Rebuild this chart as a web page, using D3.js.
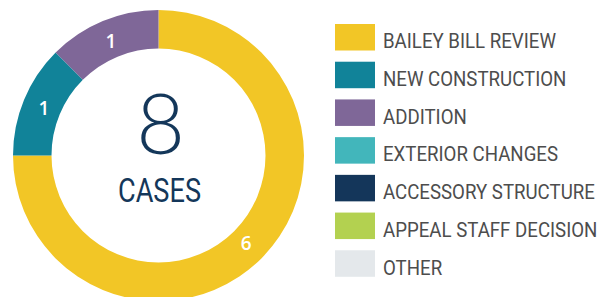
<!DOCTYPE html>
<html>
<head>
<meta charset="utf-8">
<script src="https://cdn.jsdelivr.net/npm/d3@7"></script>
<style>
  html, body { margin: 0; padding: 0; background: #fff; }
  svg { display: block; }
</style>
</head>
<body>
<div id="chart"></div>
<script>
// case types, in legend order
var categories = ["BAILEY BILL REVIEW", "NEW CONSTRUCTION", "ADDITION", "EXTERIOR CHANGES",
                  "ACCESSORY STRUCTURE", "APPEAL STAFF DECISION", "OTHER"];
var counts = [6, 1, 1, 0, 0, 0, 0];
var colors = ["#f2c626", "#118399", "#7f6798", "#42b6bb", "#14365a", "#b3d150", "#e4e8eb"];
var total_label = "CASES";

var width = 613, height = 297;
var cx = 158.5, cy = 155.5;
var outer_r = 145.5, inner_r = 107;

var svg = d3.select("#chart").append("svg")
    .attr("width", width)
    .attr("height", height);

var color = d3.scaleOrdinal().domain(categories).range(colors);

var data = categories.map(function(c, i) { return { name: c, value: counts[i] }; });

var pie = d3.pie().sort(null).value(function(d) { return d.value; });
var arc = d3.arc().innerRadius(inner_r).outerRadius(outer_r);
var label_arc = d3.arc().innerRadius(124).outerRadius(124);

var g = svg.append("g").attr("transform", "translate(" + cx + "," + cy + ")");

var slices = pie(data).filter(function(d) { return d.value > 0; });

g.selectAll(".slice")
    .data(slices)
  .enter().append("path")
    .attr("class", "slice")
    .attr("d", arc)
    .attr("fill", function(d) { return color(d.data.name); });

g.selectAll(".slice_label")
    .data(slices)
  .enter().append("text")
    .attr("class", "slice_label")
    .attr("transform", function(d) { return "translate(" + label_arc.centroid(d) + ")"; })
    .attr("text-anchor", "middle")
    .attr("dy", "0.36em")
    .attr("fill", "#fff")
    .attr("font-family", "'Open Sans', Lato, sans-serif")
    .attr("font-weight", 600)
    .attr("font-size", 19)
    .text(function(d) { return d.value; });

/* total in the middle */
g.append("text")
    .attr("x", 2)
    .attr("y", -2)
    .attr("text-anchor", "middle")
    .attr("fill", "#14375a")
    .attr("font-family", "Lato, 'Open Sans', sans-serif")
    .attr("font-weight", 300)
    .attr("font-size", 84)
    .text(d3.sum(counts));

g.append("text")
    .attr("x", 1)
    .attr("y", 46.5)
    .attr("text-anchor", "middle")
    .attr("fill", "#14375a")
    .attr("font-family", "Roboto, sans-serif")
    .attr("font-size", 33)
    .attr("textLength", 83)
    .attr("lengthAdjust", "spacingAndGlyphs")
    .text(total_label);

/* legend */
var legend_y = d3.scaleBand().domain(categories).range([24, 288]).paddingInner(0);

var legend = svg.selectAll(".legend")
    .data(categories)
  .enter().append("g")
    .attr("class", "legend")
    .attr("transform", function(d) { return "translate(335," + legend_y(d) + ")"; });

legend.append("rect")
    .attr("width", 40)
    .attr("height", 26.5)
    .attr("fill", function(d) { return color(d); });

var legend_text = legend.append("text")
    .attr("fill", "#4d4d4d")
    .attr("font-family", "Roboto, sans-serif")
    .attr("font-size", 21)
    .text(function(d) { return d; });

// squeeze the labels sideways so the first one is ~173px wide, like the condensed original
var first_w = legend_text.node().getComputedTextLength();
var sx = 173 / first_w;
legend_text.attr("transform", "translate(48,24.3) scale(" + sx + ",1)");
</script>
</body>
</html>
